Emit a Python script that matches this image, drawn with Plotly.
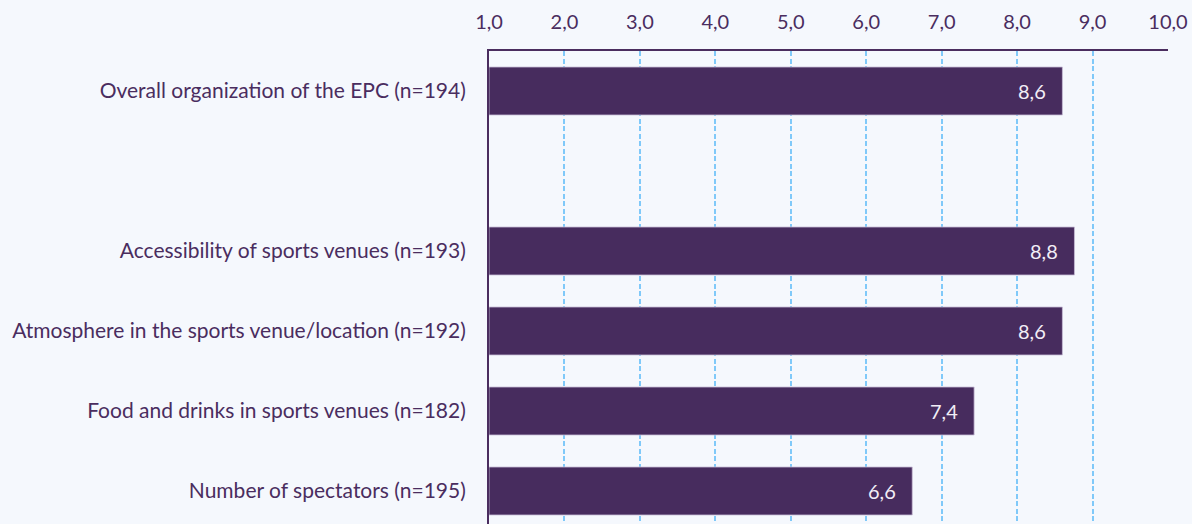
import plotly.graph_objects as go

categories = [
    "Overall organization of the EPC (n=194)",
    "",
    "Accessibility of sports venues (n=193)",
    "Atmosphere in the sports venue/location (n=192)",
    "Food and drinks in sports venues (n=182)",
    "Number of spectators (n=195)",
]
values = [8.6, None, 8.76, 8.6, 7.43, 6.61]
x_ticks = [1, 2, 3, 4, 5, 6, 7, 8, 9, 10]

TEXT = "#4a2d5f"
BAR = "#472c5e"
BG = "#f5f8fd"
FS = 21

pos = list(range(len(categories)))
bx = [v for v in values if v is not None]
by = [p for p, v in zip(pos, values) if v is not None]

fig = go.Figure()
fig.add_trace(go.Bar(
    x=[v - 1 for v in bx], base=1, y=by, orientation="h", width=0.6,
    marker=dict(color=BAR, line=dict(color="rgba(200,190,215,0.8)", width=1)),
    hoverinfo="skip",
))
for v, p in zip(bx, by):
    fig.add_annotation(x=v, y=p, xref="x", yref="y", text=f"{v:.1f}".replace(".", ","),
                       showarrow=False, xanchor="right", xshift=-14,
                       font=dict(color="#f2eef6", size=20, family="Lato"))

fig.update_layout(
    width=1192, height=524,
    margin=dict(l=489, r=24, t=51, b=0),
    paper_bgcolor=BG, plot_bgcolor=BG,
    font=dict(family="Lato", color=TEXT, size=FS),
    showlegend=False,
    separators=", ",
)
fig.update_xaxes(
    side="top", range=[1, 10], tickvals=x_ticks, tickformat=".1f",
    showgrid=True, gridcolor="#80c9f9", griddash="5px,2.5px", gridwidth=2,
    showline=True, linecolor=TEXT, linewidth=2, zeroline=False,
    ticks="", ticklabelstandoff=12, tickfont=dict(size=20, color=TEXT),
)
fig.update_yaxes(
    range=[5.4125, -0.5], tickvals=[p for p, c in zip(pos, categories) if c],
    ticktext=[c for c in categories if c],
    showgrid=False, showline=True, linecolor=TEXT, linewidth=2, zeroline=False,
    ticks="", ticklabelstandoff=17, tickfont=dict(size=FS, color=TEXT),
)
fig.write_html(
    "out.html",
    config={"displayModeBar": False},
    post_script="document.body.style.margin='0';document.body.style.background='#f5f8fd';",
)
